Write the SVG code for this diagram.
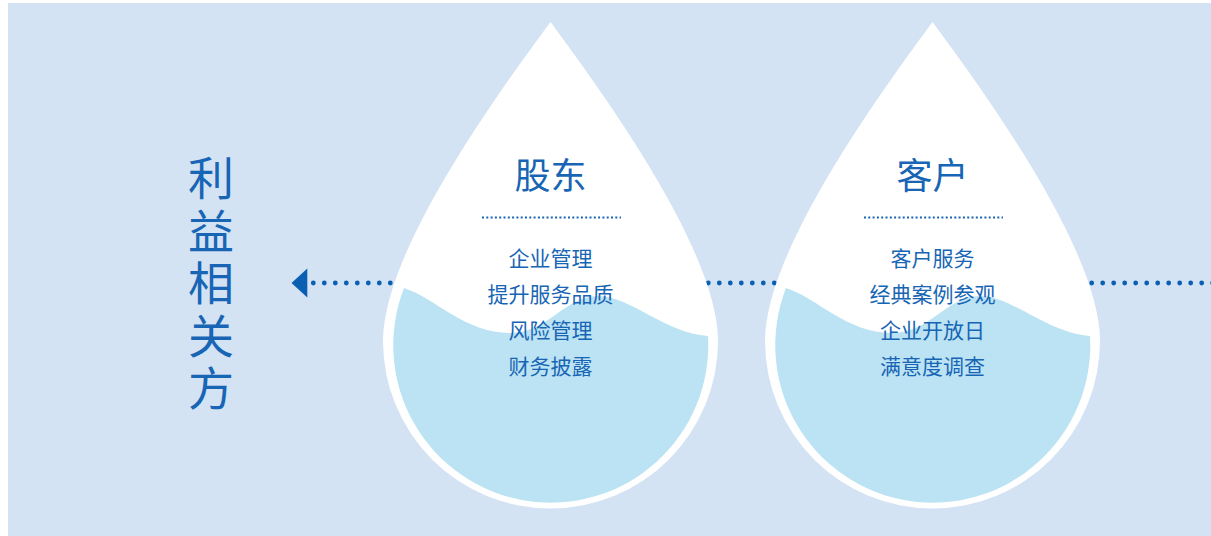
<svg xmlns="http://www.w3.org/2000/svg" width="1211" height="536" viewBox="0 0 1211 536">
  <defs>
    <style>
      .t { font-family: "Noto Sans CJK SC", "Noto Sans", sans-serif; fill: #1765b4; text-anchor: middle; }
      .side { font-size: 46px; writing-mode: vertical-rl; text-anchor: start; letter-spacing: 6.5px; }
      .title { font-size: 36px; }
      .item { font-size: 21px; }
      .drop { fill: #ffffff; }
      .water { fill: #bbe3f3; }
      .dots { stroke: #0b5fb3; stroke-width: 4.8; stroke-linecap: round; stroke-dasharray: 0 11; fill: none; }
      .rule { stroke: #1765b4; stroke-width: 2; stroke-dasharray: 2 2.3; fill: none; }
    </style>
    <path id="dropShape" d="M550.5,22 C500.5,90 383,250 383,341 A167.5,167.5 0 0 0 718,341 C718,250 600.5,90 550.5,22 Z"/>
    <path id="waterShape" d="M404,288 C435,298 465,333 510,333 C548,333 565,296 598,296 C630,296 665,333 708,336 A157.5,157.5 0 1 1 404,288 Z"/>
  </defs>

  <rect x="8" y="3" width="1203" height="533" fill="#d3e3f4"/>

  <g id="connectors">
    <line class="dots" x1="313.3" y1="283" x2="391" y2="283"/>
    <polygon points="291.5,283 307.3,268.5 307.3,297.5" fill="#0b5fb3"/>
    <line class="dots" x1="708.3" y1="283" x2="775" y2="283"/>
    <line class="dots" x1="1091.7" y1="283" x2="1213" y2="283"/>
  </g>

  <g id="stakeholders">
    <text class="t side" x="211" y="155">利益相关方</text>
  </g>

  <g id="shareholders">
    <use href="#dropShape" class="drop"/>
    <use href="#waterShape" class="water"/>
    <text class="t title" x="550.5" y="189">股东</text>
    <line class="rule" x1="482" y1="217.5" x2="621" y2="217.5"/>
    <text class="t item" x="550.5" y="266">企业管理</text>
    <text class="t item" x="550.5" y="302">提升服务品质</text>
    <text class="t item" x="550.5" y="338">风险管理</text>
    <text class="t item" x="550.5" y="374">财务披露</text>
  </g>

  <g id="customers">
    <use href="#dropShape" class="drop" x="382"/>
    <use href="#waterShape" class="water" x="382"/>
    <text class="t title" x="932.5" y="189">客户</text>
    <line class="rule" x1="864" y1="217.5" x2="1003" y2="217.5"/>
    <text class="t item" x="932.5" y="266">客户服务</text>
    <text class="t item" x="932.5" y="302">经典案例参观</text>
    <text class="t item" x="932.5" y="338">企业开放日</text>
    <text class="t item" x="932.5" y="374">满意度调查</text>
  </g>
</svg>
